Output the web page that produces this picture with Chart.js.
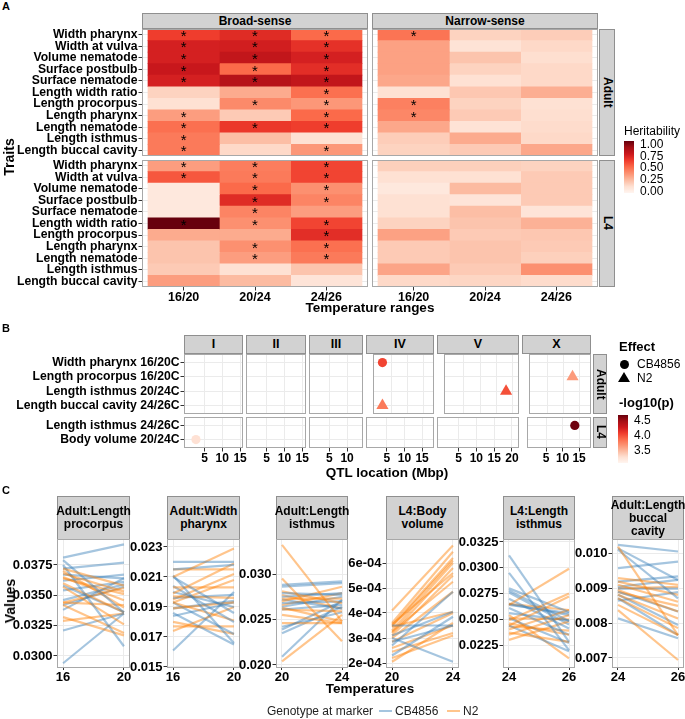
<!DOCTYPE html>
<html lang="en">
<head>
<meta charset="UTF-8">
<title>Heritability, QTL and reaction norms</title>
<script src="https://cdn.jsdelivr.net/npm/chart.js"></script>
<style>
  body { margin: 0; background: #fff; }
  #fig { position: relative; width: 685px; height: 719px; overflow: hidden;
         font-family: "Liberation Sans", Arial, sans-serif; color: #000; }
  #fig canvas { position: absolute; }
  .lbl { position: absolute; white-space: nowrap; line-height: 1; }
  .strip { position: absolute; box-sizing: border-box; background: #d2d2d2; border: 1px solid #8f8f8f;
           display: flex; align-items: center; justify-content: center; text-align: center;
           font-weight: bold; font-size: 12px; line-height: 13px; }
  .strip span { white-space: pre; }
</style>
</head>
<body>
<div id="fig"></div>
<script>
// ---- panel A data ----
const traits = ['Width pharynx', 'Width at vulva', 'Volume nematode', 'Surface postbulb', 'Surface nematode',
  'Length width ratio', 'Length procorpus', 'Length pharynx', 'Length nematode', 'Length isthmus', 'Length buccal cavity'];
const ranges = ['16/20', '20/24', '24/26'];

const broadAdult = [[0.62, 0.68, 0.50], [0.72, 0.73, 0.66], [0.72, 0.78, 0.72], [0.76, 0.50, 0.67], [0.72, 0.82, 0.78],
  [0.17, 0.30, 0.48], [0.12, 0.40, 0.36], [0.34, 0.20, 0.50], [0.48, 0.64, 0.62], [0.45, 0.24, 0.12], [0.45, 0.15, 0.36]];
const broadAdultSig = [[1, 1, 1], [1, 1, 1], [1, 1, 1], [1, 1, 1], [1, 1, 1], [0, 0, 1], [0, 1, 1], [1, 0, 1], [1, 1, 1], [1, 0, 0], [1, 0, 1]];
const broadL4 = [[0.34, 0.44, 0.60], [0.55, 0.45, 0.60], [0.08, 0.50, 0.38], [0.08, 0.68, 0.42], [0.08, 0.42, 0.34],
  [1.00, 0.38, 0.60], [0.30, 0.30, 0.67], [0.22, 0.38, 0.48], [0.22, 0.34, 0.45], [0.20, 0.12, 0.22], [0.34, 0.25, 0.10]];
const broadL4Sig = [[1, 1, 1], [1, 1, 1], [0, 1, 1], [0, 1, 1], [0, 1, 0], [1, 1, 1], [0, 0, 1], [0, 1, 1], [0, 1, 1], [0, 0, 0], [0, 0, 0]];
const narrowAdult = [[0.47, 0.17, 0.19], [0.33, 0.11, 0.15], [0.33, 0.22, 0.13], [0.33, 0.17, 0.15], [0.31, 0.12, 0.15],
  [0.12, 0.21, 0.29], [0.43, 0.17, 0.12], [0.41, 0.20, 0.13], [0.31, 0.11, 0.14], [0.19, 0.30, 0.15], [0.17, 0.20, 0.31]];
const narrowAdultSig = [[1, 0, 0], [0, 0, 0], [0, 0, 0], [0, 0, 0], [0, 0, 0], [0, 0, 0], [1, 0, 0], [1, 0, 0], [0, 0, 0], [0, 0, 0], [0, 0, 0]];
const narrowL4 = [[0.18, 0.18, 0.17], [0.12, 0.12, 0.20], [0.08, 0.25, 0.20], [0.12, 0.10, 0.20], [0.12, 0.24, 0.10],
  [0.17, 0.22, 0.28], [0.33, 0.20, 0.21], [0.20, 0.22, 0.20], [0.20, 0.22, 0.18], [0.32, 0.20, 0.38], [0.15, 0.16, 0.14]];
const narrowL4Sig = traits.map(() => [0, 0, 0]);
const heritTicks = ['1.00', '0.75', '0.50', '0.25', '0.00'];

// ---- panel B data ----
const chromosomes = ['I', 'II', 'III', 'IV', 'V', 'X'];
const chrLength = [15.07, 15.28, 13.78, 17.49, 20.92, 17.72];
const adultRows = ['Width pharynx 16/20C', 'Length procorpus 16/20C', 'Length isthmus 20/24C', 'Length buccal cavity 24/26C'];
const l4Rows = ['Length isthmus 24/26C', 'Body volume 20/24C'];
const qtlStage = ['Adult', 'Adult', 'Adult', 'Adult', 'L4', 'L4'];
const qtlTrait = ['Width pharynx 16/20C', 'Length procorpus 16/20C', 'Length isthmus 20/24C', 'Length buccal cavity 24/26C',
  'Length isthmus 24/26C', 'Body volume 20/24C'];
const qtlChr = ['IV', 'X', 'V', 'IV', 'X', 'I'];
const qtlPos = [2.1, 12.8, 18.0, 2.1, 13.7, 2.6];
const qtlLogP = [4.03, 3.63, 3.98, 3.79, 4.65, 3.26];
const qtlEffect = ['CB4856', 'N2', 'N2', 'N2', 'CB4856', 'CB4856'];
const logpTicks = ['4.5', '4.0', '3.5'];

// ---- panel C data: [value at low temp, value at high temp] per strain ----
const cTitles = ['Adult:Length\nprocorpus', 'Adult:Width\npharynx', 'Adult:Length\nisthmus', 'L4:Body\nvolume', 'L4:Length\nisthmus', 'Adult:Length\nbuccal\ncavity'];
const cTemps = [[16, 20], [16, 20], [20, 24], [20, 24], [24, 26], [24, 26]];
const cTickVals = [[0.0300, 0.0325, 0.0350, 0.0375], [0.015, 0.017, 0.019, 0.021, 0.023], [0.020, 0.025, 0.030],
  [2e-4, 3e-4, 4e-4, 5e-4, 6e-4], [0.0225, 0.0250, 0.0275, 0.0300, 0.0325], [0.007, 0.008, 0.009, 0.010]];
const cTickText = [['0.0300', '0.0325', '0.0350', '0.0375'], ['0.015', '0.017', '0.019', '0.021', '0.023'], ['0.020', '0.025', '0.030'],
  ['2e-04', '3e-04', '4e-04', '5e-04', '6e-04'], ['0.0225', '0.0250', '0.0275', '0.0300', '0.0325'], ['0.007', '0.008', '0.009', '0.010']];

const procorpusCB = [[0.0381, 0.0392], [0.0372, 0.0377], [0.0379, 0.0336], [0.0375, 0.0308], [0.0367, 0.0364], [0.0362, 0.0367],
  [0.0354, 0.0361], [0.0346, 0.0359], [0.0338, 0.0364], [0.0321, 0.0335], [0.0294, 0.0335], [0.0358, 0.0336], [0.0342, 0.0357]];
const procorpusN2 = [[0.0372, 0.0358], [0.0368, 0.0353], [0.0365, 0.0346], [0.0364, 0.0351], [0.0360, 0.0336], [0.0357, 0.0326],
  [0.0344, 0.0342], [0.0342, 0.0319], [0.0332, 0.0317], [0.0329, 0.0335], [0.0344, 0.0356], [0.0370, 0.0340]];
const pharynxCB = [[0.0220, 0.0220], [0.0215, 0.0218], [0.0211, 0.0166], [0.0210, 0.0186], [0.0204, 0.0180], [0.0200, 0.0190],
  [0.0196, 0.0198], [0.0193, 0.0172], [0.0189, 0.0194], [0.0186, 0.0165], [0.0161, 0.0200], [0.0184, 0.0193]];
const pharynxN2 = [[0.0210, 0.0229], [0.0215, 0.0215], [0.0199, 0.0219], [0.0203, 0.0203], [0.0197, 0.0196], [0.0193, 0.0181],
  [0.0189, 0.0193], [0.0177, 0.0177], [0.0174, 0.0190], [0.0180, 0.0172], [0.0193, 0.0208], [0.0195, 0.0212]];
const isthmusAdultCB = [[0.0288, 0.0292], [0.0286, 0.0290], [0.0279, 0.0277], [0.0275, 0.0279], [0.0268, 0.0270], [0.0264, 0.0275],
  [0.0261, 0.0266], [0.0239, 0.0270], [0.0235, 0.0264], [0.0209, 0.0272], [0.0272, 0.0262], [0.0242, 0.0258]];
const isthmusAdultN2 = [[0.0332, 0.0248], [0.0295, 0.0226], [0.0281, 0.0268], [0.0273, 0.0273], [0.0266, 0.0279], [0.0261, 0.0259],
  [0.0255, 0.0246], [0.0246, 0.0246], [0.0204, 0.0255], [0.0270, 0.0286], [0.0277, 0.0262], [0.0263, 0.0248]];
const volumeCB = [[3.5e-4, 3.5e-4], [3.0e-4, 2.05e-4], [2.7e-4, 4.85e-4], [2.3e-4, 3.85e-4], [2.85e-4, 3.5e-4], [3.1e-4, 4.05e-4]];
const volumeN2 = [[4.1e-4, 6.7e-4], [3.6e-4, 6.45e-4], [3.5e-4, 6.2e-4], [3.45e-4, 6.1e-4], [3.3e-4, 6.0e-4], [3.2e-4, 5.8e-4],
  [3.1e-4, 5.5e-4], [3.25e-4, 5.25e-4], [3.0e-4, 4.85e-4], [3.45e-4, 4.05e-4], [2.85e-4, 4.0e-4], [2.6e-4, 3.5e-4],
  [2.2e-4, 3.1e-4], [2.05e-4, 3.6e-4], [2.45e-4, 3.2e-4], [3.55e-4, 5.6e-4]];
const isthmusL4CB = [[0.0312, 0.0228], [0.0295, 0.0220], [0.0280, 0.0257], [0.0278, 0.0248], [0.0270, 0.0241], [0.0265, 0.0254],
  [0.0261, 0.0235], [0.0256, 0.0249], [0.0251, 0.0227], [0.0244, 0.0219], [0.0264, 0.0256], [0.0276, 0.0245]];
const isthmusL4N2 = [[0.0264, 0.0299], [0.0249, 0.0275], [0.0244, 0.0272], [0.0240, 0.0259], [0.0235, 0.0254], [0.0246, 0.0235],
  [0.0237, 0.0228], [0.0230, 0.0248], [0.0265, 0.0259], [0.0254, 0.0212], [0.0251, 0.0250], [0.0243, 0.0239]];
const buccalCB = [[0.01026, 0.01007], [0.01016, 0.00925], [0.01012, 0.00872], [0.00959, 0.00978], [0.0092, 0.00935], [0.0090, 0.0090],
  [0.00891, 0.00834], [0.00882, 0.00795], [0.00872, 0.00766], [0.00814, 0.00757], [0.00905, 0.00925], [0.00865, 0.0089]];
const buccalN2 = [[0.01021, 0.00766], [0.0093, 0.00911], [0.0092, 0.00882], [0.00911, 0.00862], [0.00896, 0.00834], [0.00882, 0.00814],
  [0.00872, 0.00786], [0.00853, 0.00766], [0.00838, 0.00694], [0.00901, 0.00905], [0.0089, 0.0085]];
const cCB = [procorpusCB, pharynxCB, isthmusAdultCB, volumeCB, isthmusL4CB, buccalCB];
const cN2 = [procorpusN2, pharynxN2, isthmusAdultN2, volumeN2, isthmusL4N2, buccalN2];

// ---- helpers ----
Chart.defaults.font.family = '"Liberation Sans", Arial, sans-serif';
Chart.defaults.color = '#000';
const fig = document.getElementById('fig');
const PAD = 8;
const reds = ['#fff5f0', '#fee0d2', '#fcbba1', '#fc9272', '#fb6a4a', '#ef3b2c', '#cb181d', '#a50f15', '#67000d'];

function rgb(c) { return [1, 3, 5].map(i => parseInt(c.slice(i, i + 2), 16)); }
function heat(v) {
  const t = Math.min(Math.max(v, 0), 1) * (reds.length - 1);
  const i = Math.min(Math.floor(t), reds.length - 2), f = t - i;
  const a = rgb(reds[i]), b = rgb(reds[i + 1]);
  return 'rgb(' + a.map((x, k) => Math.round(x + (b[k] - x) * f)).join(',') + ')';
}
const pLow = 3.07, pHigh = 4.67;
function pColor(p) { return heat((p - pLow) / (pHigh - pLow)); }

function label(txt, x, y, o = {}) {
  const d = document.createElement('div');
  d.className = 'lbl';
  d.textContent = txt;
  const tx = { left: '0', center: '-50%', right: '-100%' }[o.align || 'left'];
  d.style.left = x + 'px';
  d.style.top = y + 'px';
  d.style.transform = `translate(${tx}, -50%)` + (o.rotate ? ` rotate(${o.rotate}deg)` : '');
  d.style.fontSize = (o.size || 12) + 'px';
  if (o.bold) d.style.fontWeight = 'bold';
  if (o.color) d.style.color = o.color;
  fig.appendChild(d);
  return d;
}
function box(x, y, w, h, style) {
  const d = document.createElement('div');
  d.style.position = 'absolute';
  Object.assign(d.style, { left: x + 'px', top: y + 'px', width: w + 'px', height: h + 'px' }, style);
  fig.appendChild(d);
  return d;
}
function strip(txt, x, y, w, h, o = {}) {
  const d = box(x, y, w, h, {});
  d.className = 'strip';
  if (o.size) d.style.fontSize = o.size + 'px';
  const s = document.createElement('span');
  s.textContent = txt;
  if (o.vertical) s.style.writingMode = 'vertical-rl';
  d.appendChild(s);
}
function canvasAt(x, y, w, h) {
  const c = document.createElement('canvas');
  c.width = Math.round(w); c.height = Math.round(h);
  c.style.left = x + 'px'; c.style.top = y + 'px';
  c.style.width = Math.round(w) + 'px'; c.style.height = Math.round(h) + 'px';
  fig.appendChild(c);
  return c;
}

// axis with a fixed thickness so the plotting area lands where the panel is
function axis(horiz, size, o = {}) {
  const show = size > 0;
  const a = {
    display: true,
    grid: { color: '#ebebeb', lineWidth: 1, offset: false, drawTicks: show, tickLength: o.tickLen || 3.5, tickColor: '#333' },
    border: { display: false },
    ticks: { display: show, autoSkip: false, maxRotation: 0, minRotation: 0, padding: o.padding || 0,
             color: '#000', font: { size: o.font || 12, weight: 'bold' } },
    afterFit: s => {
      if (horiz) { s.height = size; s.paddingLeft = 0; s.paddingRight = 0; }
      else { s.width = size; s.paddingTop = 0; s.paddingBottom = 0; }
    }
  };
  if (o.values) {
    a.afterBuildTicks = s => { s.ticks = o.values.map(v => ({ value: v })); };
    a.ticks.callback = (v, i) => o.text[i];
  }
  ['type', 'min', 'max', 'reverse', 'stacked', 'offset'].forEach(k => { if (k in o) a[k] = o[k]; });
  return a;
}

const framePlugin = {
  id: 'frame',
  afterDraw(chart) {
    const a = chart.chartArea, ctx = chart.ctx;
    ctx.save();
    ctx.strokeStyle = '#a8a8a8';
    ctx.lineWidth = 1;
    ctx.strokeRect(Math.round(a.left) + 0.5, Math.round(a.top) + 0.5, Math.round(a.right - a.left) - 1, Math.round(a.bottom - a.top) - 1);
    ctx.restore();
  }
};
const starPlugin = {
  id: 'stars',
  afterDatasetsDraw(chart, args, opts) {
    const ctx = chart.ctx;
    ctx.save();
    ctx.fillStyle = '#000';
    ctx.font = '15px "Liberation Sans", Arial, sans-serif';
    ctx.textAlign = 'center';
    ctx.textBaseline = 'middle';
    chart.data.datasets.forEach((ds, j) => {
      chart.getDatasetMeta(j).data.forEach((bar, i) => {
        if (opts.sig[i][j]) ctx.fillText('*', (bar.x + bar.base) / 2, bar.y + 2);
      });
    });
    ctx.restore();
  }
};
function baseOptions(extra) {
  return Object.assign({
    responsive: false, animation: false, devicePixelRatio: 1,
    layout: { padding: { top: PAD, bottom: PAD, left: 0, right: PAD } },
  }, extra);
}

// ---------------- panel A ----------------
label('A', 2, 6, { bold: true, size: 11 });
const heatW = 226, heatH = 127;

function heatPanel(vals, sig, x, y, axisW, axisH) {
  const cv = canvasAt(x - axisW, y - PAD, heatW + axisW + PAD, heatH + axisH + 2 * PAD);
  new Chart(cv, {
    type: 'bar',
    data: {
      labels: traits,
      datasets: ranges.map((r, j) => ({
        label: r,
        data: traits.map(() => 1),
        backgroundColor: vals.map(row => heat(row[j])),
        borderWidth: 0, barPercentage: 1, categoryPercentage: 1
      }))
    },
    options: baseOptions({
      indexAxis: 'y',
      plugins: { legend: { display: false }, tooltip: { enabled: false }, stars: { sig: sig } },
      scales: {
        x: axis(true, axisH, { stacked: true, min: -0.084, max: 3.084, values: [0.5, 1.5, 2.5], text: ranges, font: 12.5 }),
        y: axis(false, axisW, { stacked: true, offset: true, padding: 1, font: 12.2 })
      }
    }),
    plugins: [starPlugin, framePlugin]
  });
}

strip('Broad-sense', 142, 13, 226, 16);
strip('Narrow-sense', 372, 13, 226, 16);
strip('Adult', 599, 29, 16, heatH, { vertical: true });
strip('L4', 599, 160, 16, heatH, { vertical: true });
heatPanel(broadAdult, broadAdultSig, 142, 29, 142, 0);
heatPanel(narrowAdult, narrowAdultSig, 372, 29, 0, 0);
heatPanel(broadL4, broadL4Sig, 142, 160, 142, 22);
heatPanel(narrowL4, narrowL4Sig, 372, 160, 0, 22);
label('Traits', 9, 157, { bold: true, size: 14, align: 'center', rotate: -90 });
label('Temperature ranges', 370, 308, { bold: true, size: 13.5, align: 'center' });

label('Heritability', 624, 131, { size: 12 });
box(624, 141, 10, 52, { background: `linear-gradient(to top, ${reds.join(',')})` });
heritTicks.forEach((t, i) => label(t, 640, 144 + i * 11.7, { size: 12 }));

// ---------------- panel B ----------------
label('B', 2, 328, { bold: true, size: 11 });
const chrLeft = [184, 246, 309, 366, 437, 522];
const chrWidth = [59, 60, 54, 68, 82, 69];
const stageRows = { Adult: adultRows, L4: l4Rows };
const stageTop = { Adult: 354, L4: 417 };
const stageHeight = { Adult: 60, L4: 31 };

chromosomes.forEach((chr, ci) => {
  strip(chr, chrLeft[ci], 335, chrWidth[ci], 19, { size: 12.5 });
  ['Adult', 'L4'].forEach(stage => {
    const rows = stageRows[stage];
    const axisW = ci === 0 ? 184 : 0;
    const axisH = stage === 'L4' ? 18 : 0;
    const idx = qtlTrait.map((t, i) => i).filter(i => qtlChr[i] === chr && qtlStage[i] === stage);
    const L = chrLength[ci];
    const cv = canvasAt(chrLeft[ci] - axisW, stageTop[stage] - PAD, chrWidth[ci] + axisW + PAD, stageHeight[stage] + axisH + 2 * PAD);
    new Chart(cv, {
      type: 'scatter',
      data: {
        datasets: [{
          data: idx.map(i => ({ x: qtlPos[i], y: rows.indexOf(qtlTrait[i]) })),
          pointStyle: idx.map(i => qtlEffect[i] === 'CB4856' ? 'circle' : 'triangle'),
          pointRadius: idx.map(i => qtlEffect[i] === 'CB4856' ? 4.6 : 7),
          backgroundColor: idx.map(i => pColor(qtlLogP[i])),
          borderWidth: 0
        }]
      },
      options: baseOptions({
        plugins: { legend: { display: false }, tooltip: { enabled: false } },
        scales: {
          x: axis(true, axisH, { type: 'linear', min: -0.05 * L, max: 1.05 * L,
                                 values: [5, 10, 15, 20].filter(v => v <= 1.05 * L), text: ['5', '10', '15', '20'], font: 12 }),
          y: axis(false, axisW, { type: 'linear', reverse: true, min: -0.6, max: rows.length - 0.4,
                                  values: rows.map((r, i) => i), text: rows, padding: 1, font: 12.2 })
        }
      }),
      plugins: [framePlugin]
    });
  });
});
strip('Adult', 593, 354, 14, 60, { vertical: true });
strip('L4', 593, 417, 14, 31, { vertical: true });
label('QTL location (Mbp)', 387, 473, { bold: true, size: 13.5, align: 'center' });

label('Effect', 619, 346, { bold: true, size: 13 });
box(619.5, 359.5, 9, 9, { background: '#000', borderRadius: '50%' });
box(618, 372, 0, 0, { borderLeft: '6px solid transparent', borderRight: '6px solid transparent', borderBottom: '10px solid #000' });
label('CB4856', 637, 364, { size: 12 });
label('N2', 637, 378, { size: 12 });
label('-log10(p)', 619, 402, { bold: true, size: 13 });
box(618, 415, 10, 48, { background: `linear-gradient(to top, ${reds.join(',')})` });
logpTicks.forEach((t, i) => label(t, 634, 420 + i * 15, { size: 12 }));

// ---------------- panel C ----------------
label('C', 2, 490, { bold: true, size: 11 });
const cLeft = [57, 167, 276, 386, 503, 612];
const cWidth = [73, 73, 72, 73, 72, 72];
const cYMin = [0.02901, 0.01493, 0.01967, 1.8e-4, 0.02027, 0.00671];
const cYMax = [0.03964, 0.02353, 0.03385, 6.96e-4, 0.03279, 0.01043];
const cTop = 539, cHeight = 129, cAxisW = 56;
const blue = 'rgba(55,126,184,0.45)', orange = 'rgba(255,127,0,0.45)';

cTitles.forEach((title, k) => {
  strip(title, cLeft[k], 496, cWidth[k], 44);
  const [t0, t1] = cTemps[k];
  const span = t1 - t0;
  const sets = [];
  const n = Math.max(cCB[k].length, cN2[k].length);
  for (let i = 0; i < n; i++) {
    if (cCB[k][i]) sets.push({ data: [{ x: t0, y: cCB[k][i][0] }, { x: t1, y: cCB[k][i][1] }], borderColor: blue });
    if (cN2[k][i]) sets.push({ data: [{ x: t0, y: cN2[k][i][0] }, { x: t1, y: cN2[k][i][1] }], borderColor: orange });
  }
  sets.forEach(s => { s.borderWidth = 2.2; s.pointRadius = 0; s.fill = false; });
  const cv = canvasAt(cLeft[k] - cAxisW, cTop - PAD, cWidth[k] + cAxisW + PAD, cHeight + 22 + 2 * PAD);
  new Chart(cv, {
    type: 'line',
    data: { datasets: sets },
    options: baseOptions({
      plugins: { legend: { display: false }, tooltip: { enabled: false } },
      scales: {
        x: axis(true, 22, { type: 'linear', min: t0 - 0.1 * span, max: t1 + 0.1 * span,
                            values: cTemps[k], text: cTemps[k].map(String), font: 13, tickLen: 2 }),
        y: axis(false, cAxisW, { type: 'linear', min: cYMin[k], max: cYMax[k],
                                 values: cTickVals[k], text: cTickText[k], font: 13, padding: 1 })
      }
    }),
    plugins: [framePlugin]
  });
});
label('Values', 10, 601, { bold: true, size: 14, align: 'center', rotate: -90 });
label('Temperatures', 370, 689, { bold: true, size: 13.5, align: 'center' });

label('Genotype at marker', 267, 711, { size: 12, color: '#222' });
box(379, 710, 13, 2, { background: blue });
label('CB4856', 395, 711, { size: 12, color: '#222' });
box(447, 710, 13, 2, { background: orange });
label('N2', 463, 711, { size: 12, color: '#222' });
</script>
</body>
</html>
